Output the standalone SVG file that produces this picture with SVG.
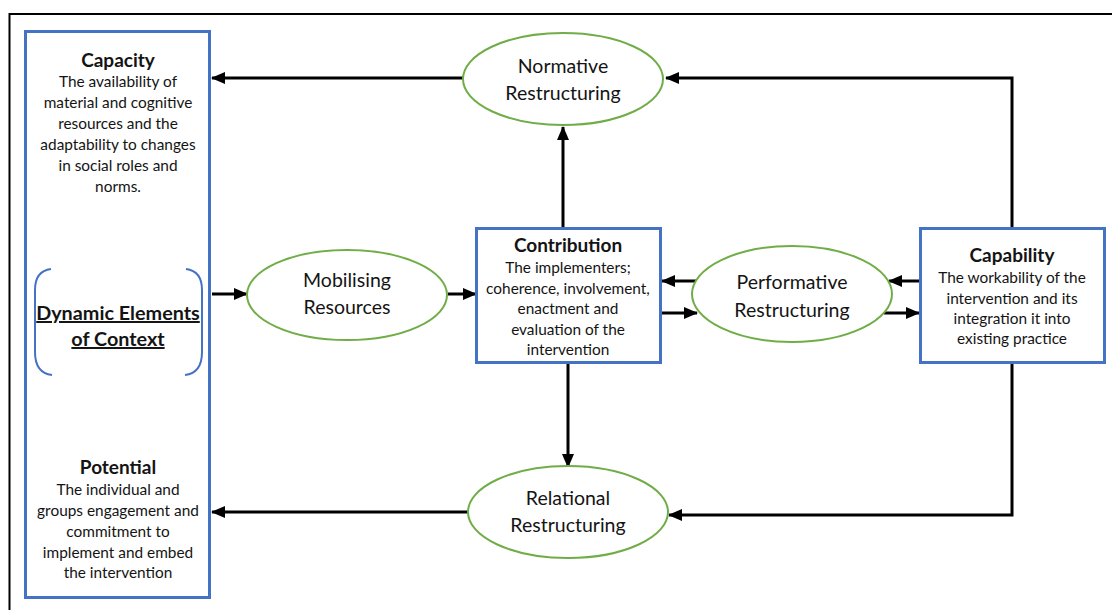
<svg xmlns="http://www.w3.org/2000/svg" width="1112" height="610" viewBox="0 0 1112 610">
  <defs>
    <marker id="arrow" markerUnits="userSpaceOnUse" markerWidth="14" markerHeight="12" refX="13" refY="6" orient="auto">
      <path d="M0,0 L14,6 L0,12 Z" fill="#000"/>
    </marker>
    <style>
      .box { fill: #fff; stroke: #4472C4; stroke-width: 3; }
      .oval { fill: #fff; stroke: #70AD47; stroke-width: 2; }
      .conn { fill: none; stroke: #000; stroke-width: 3; }
      .arr { marker-end: url(#arrow); }
      text { font-family: Lato, "Liberation Sans", sans-serif; fill: #141414; text-anchor: middle; }
      .title { font-size: 19px; font-weight: bold; }
      .body { font-size: 15.4px; }
      .label { font-size: 19.5px; }
      .dyn { font-size: 19.8px; font-weight: bold; text-decoration: underline; }
      .bracket { fill: none; stroke: #4472C4; stroke-width: 2; }
    </style>
  </defs>

  <rect width="1112" height="610" fill="#fff"/>
  <!-- outer frame -->
  <path d="M9.5,610 V14 H1112" fill="none" stroke="#000" stroke-width="2"/>

  <!-- left context column -->
  <g id="context">
    <rect class="box" x="25.5" y="31.5" width="184" height="566"/>
    <g id="capacity">
      <text class="title" x="118" y="67">Capacity</text>
      <text class="body" x="118" y="87">The availability of</text>
      <text class="body" x="118" y="108">material and cognitive</text>
      <text class="body" x="118" y="129">resources and the</text>
      <text class="body" x="118" y="150">adaptability to changes</text>
      <text class="body" x="118" y="171">in social roles and</text>
      <text class="body" x="118" y="192">norms.</text>
    </g>
    <g id="dynamic-elements">
      <path class="bracket" d="M51,269 Q35,271 35,290 V352 Q35,373 52,375"/>
      <path class="bracket" d="M186,269 Q202,271 202,290 V352 Q202,373 185,375"/>
      <text class="dyn" x="118" y="320">Dynamic Elements</text>
      <text class="dyn" x="118" y="346">of Context</text>
    </g>
    <g id="potential">
      <text class="title" x="118" y="474">Potential</text>
      <text class="body" x="118" y="495">The individual and</text>
      <text class="body" x="118" y="516">groups engagement and</text>
      <text class="body" x="118" y="537">commitment to</text>
      <text class="body" x="118" y="558">implement and embed</text>
      <text class="body" x="118" y="578">the intervention</text>
    </g>
  </g>

  <!-- connectors -->
  <g id="connectors">
    <line class="conn arr" x1="463" y1="78" x2="212" y2="78"/>
    <path class="conn arr" d="M1012,228 V78 H666"/>
    <line class="conn arr" x1="563" y1="229" x2="563" y2="127"/>
    <line class="conn arr" x1="212" y1="294" x2="247" y2="294"/>
    <line class="conn arr" x1="448" y1="294" x2="476" y2="294"/>
    <line class="conn arr" x1="696" y1="281" x2="662" y2="281"/>
    <line class="conn arr" x1="662" y1="313" x2="697" y2="313"/>
    <line class="conn arr" x1="920" y1="281" x2="889" y2="281"/>
    <line class="conn arr" x1="884" y1="313" x2="919" y2="313"/>
    <line class="conn arr" x1="568" y1="363" x2="568" y2="467"/>
    <path class="conn arr" d="M1012,363 V515 H669"/>
    <line class="conn arr" x1="468" y1="512" x2="212" y2="512"/>
  </g>

  <g id="normative">
    <ellipse class="oval" cx="563" cy="79" rx="100" ry="46"/>
    <text class="label" x="563" y="73">Normative</text>
    <text class="label" x="563" y="100">Restructuring</text>
  </g>

  <g id="mobilising">
    <ellipse class="oval" cx="347" cy="295" rx="100" ry="45"/>
    <text class="label" x="347" y="287">Mobilising</text>
    <text class="label" x="347" y="314">Resources</text>
  </g>

  <g id="contribution">
    <rect class="box" x="476.5" y="228.5" width="184" height="134"/>
    <text class="title" x="568" y="252">Contribution</text>
    <text class="body" x="568" y="273">The implementers;</text>
    <text class="body" x="568" y="294">coherence, involvement,</text>
    <text class="body" x="568" y="314">enactment and</text>
    <text class="body" x="568" y="335">evaluation of the</text>
    <text class="body" x="568" y="355">intervention</text>
  </g>

  <g id="performative">
    <ellipse class="oval" cx="792" cy="294" rx="100" ry="48"/>
    <text class="label" x="792" y="289">Performative</text>
    <text class="label" x="792" y="317">Restructuring</text>
  </g>

  <g id="capability">
    <rect class="box" x="920.5" y="228.5" width="184" height="134"/>
    <text class="title" x="1012" y="262">Capability</text>
    <text class="body" x="1012" y="283">The workability of the</text>
    <text class="body" x="1012" y="304">intervention and its</text>
    <text class="body" x="1012" y="324">integration it into</text>
    <text class="body" x="1012" y="344">existing practice</text>
  </g>

  <g id="relational">
    <ellipse class="oval" cx="568" cy="512" rx="100" ry="46"/>
    <text class="label" x="568" y="505">Relational</text>
    <text class="label" x="568" y="532">Restructuring</text>
  </g>
</svg>
